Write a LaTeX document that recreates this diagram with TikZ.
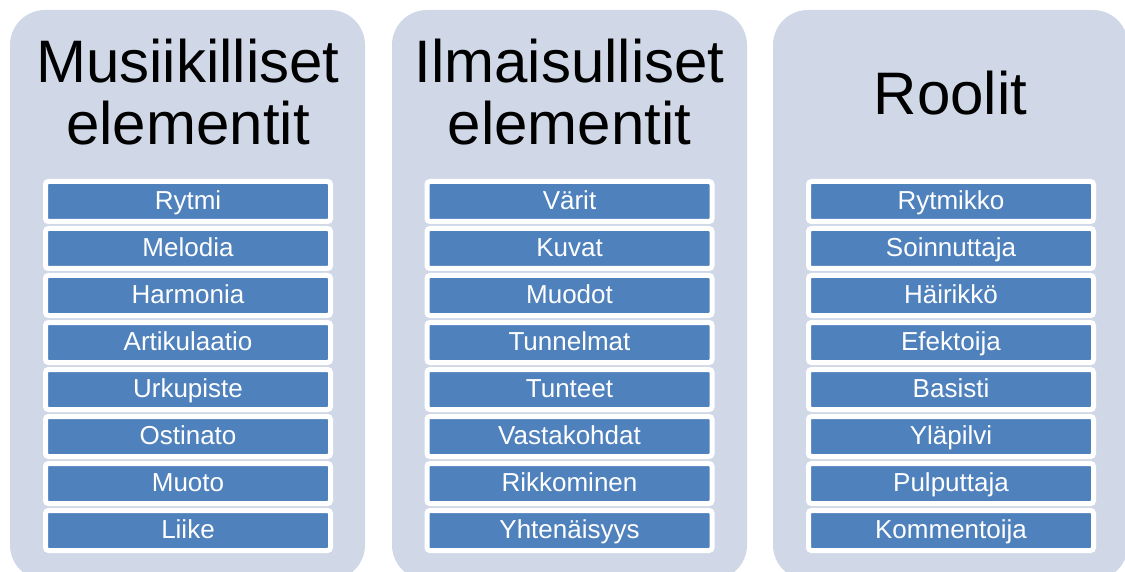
\documentclass[tikz,border=0pt]{standalone}
\usepackage{fontspec}
\setmainfont{Liberation Sans}
\definecolor{panelbg}{HTML}{D0D8E8}
\definecolor{itemblue}{HTML}{4F81BD}
\begin{document}
\begin{tikzpicture}[x=1pt,y=-1pt,
  panel/.style={fill=panelbg,draw=none,rounded corners=35pt},
  title/.style={anchor=base,inner sep=0pt,font=\fontsize{60}{62}\selectfont,text=black},
  item/.style={fill=itemblue,draw=white,line width=5pt,rounded corners=3pt,
    minimum width=285pt,minimum height=40pt,inner sep=0pt,
    text=white,font=\fontsize{26}{28}\selectfont,text height=20pt,text depth=4pt}]
\useasboundingbox (0,0) rectangle (1125,572);
\begin{scope}
\clip (0,0) rectangle (1125,572);
\fill[panel] (10,10) rectangle (365,580);
\fill[panel] (392,10) rectangle (747,580);
\fill[panel] (773,10) rectangle (1128,580);
\end{scope}
% titles
\node[title] (t1a) at (188,83) {Musiikilliset};
\node[title] (t1b) at (188,145) {elementit};
\node[title] (t2a) at (569.5,83) {Ilmaisulliset};
\node[title] (t2b) at (569.5,145) {elementit};
\node[title] (t3) at (950.5,115) {Roolit};
% items
\foreach \t [count=\i from 0] in {Rytmi,Melodia,Harmonia,Artikulaatio,Urkupiste,Ostinato,Muoto,Liike}
  \node[item] (a\i) at (188,{201.5+47*\i}) {\t};
\foreach \t [count=\i from 0] in {Värit,Kuvat,Muodot,Tunnelmat,Tunteet,Vastakohdat,Rikkominen,Yhtenäisyys}
  \node[item] (b\i) at (569.5,{201.5+47*\i}) {\t};
\foreach \t [count=\i from 0] in {Rytmikko,Soinnuttaja,Häirikkö,Efektoija,Basisti,Yläpilvi,Pulputtaja,Kommentoija}
  \node[item] (c\i) at (951,{201.5+47*\i}) {\t};
\end{tikzpicture}
\end{document}
